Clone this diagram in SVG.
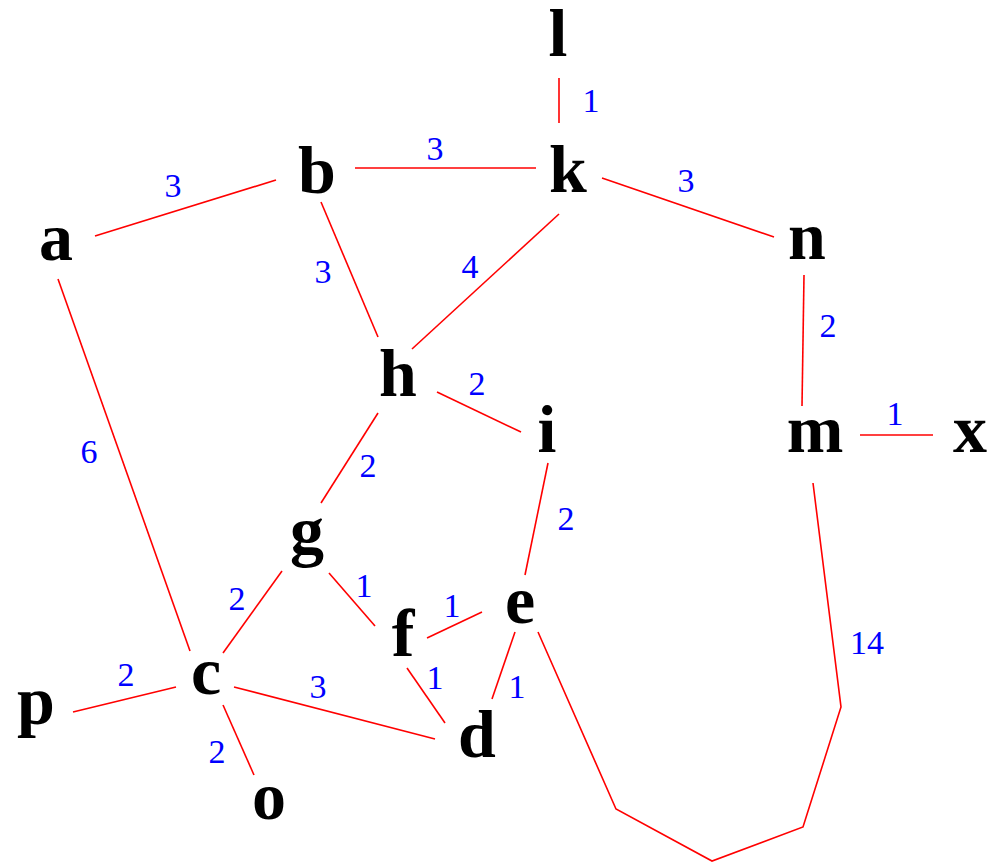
<svg xmlns="http://www.w3.org/2000/svg" width="988" height="862" viewBox="0 0 988 862">
<style>
.n{font-family:"Liberation Serif","Times New Roman",serif;font-weight:bold;font-size:68px;fill:#000;text-anchor:middle}
.w{font-family:"Liberation Serif","Times New Roman",serif;font-size:34px;fill:#0000ff;text-anchor:middle}
.e line,.e polyline{stroke:#ff0000;stroke-width:1.6;fill:none}
</style>
<rect width="988" height="862" fill="#fff"/>
<g class="e" id="edges">
<line x1="559" y1="78" x2="559" y2="123"/>
<line x1="355" y1="168" x2="536" y2="168"/>
<line x1="95" y1="236" x2="276" y2="180"/>
<line x1="321" y1="202" x2="378" y2="337"/>
<line x1="559" y1="214" x2="412" y2="349"/>
<line x1="602" y1="178" x2="774" y2="237"/>
<line x1="804" y1="275" x2="802" y2="406"/>
<line x1="860" y1="435" x2="933" y2="435"/>
<line x1="58" y1="279" x2="190" y2="651"/>
<line x1="437" y1="392" x2="521" y2="432"/>
<line x1="378" y1="413" x2="321" y2="503"/>
<line x1="548" y1="463" x2="525" y2="575"/>
<line x1="282" y1="571" x2="223" y2="653"/>
<line x1="329" y1="573" x2="375" y2="626"/>
<line x1="427" y1="638" x2="482" y2="612"/>
<line x1="407" y1="668" x2="445" y2="723"/>
<line x1="515" y1="632" x2="492" y2="699"/>
<line x1="73" y1="712" x2="176" y2="687"/>
<line x1="234" y1="687" x2="435" y2="739"/>
<line x1="223" y1="705" x2="254" y2="775"/>
<polyline points="538,632 616,809 712,861 803,827 841,707 813,483"/>
<text class="w" x="591" y="112">1</text>
<text class="w" x="435" y="160">3</text>
<text class="w" x="173" y="197">3</text>
<text class="w" x="323" y="283">3</text>
<text class="w" x="470" y="278">4</text>
<text class="w" x="686" y="192">3</text>
<text class="w" x="828" y="337">2</text>
<text class="w" x="895" y="425">1</text>
<text class="w" x="89" y="463">6</text>
<text class="w" x="477" y="395">2</text>
<text class="w" x="368" y="477">2</text>
<text class="w" x="566" y="530">2</text>
<text class="w" x="237" y="610">2</text>
<text class="w" x="364" y="597">1</text>
<text class="w" x="452" y="617">1</text>
<text class="w" x="435" y="689">1</text>
<text class="w" x="517" y="698">1</text>
<text class="w" x="126" y="686">2</text>
<text class="w" x="318" y="698">3</text>
<text class="w" x="217" y="763">2</text>
<text class="w" x="867" y="654">14</text>
</g>
<g id="node-l"><text class="n" x="558" y="56">l</text></g>
<g id="node-k"><text class="n" x="568" y="192">k</text></g>
<g id="node-b"><text class="n" x="317" y="193">b</text></g>
<g id="node-a"><text class="n" x="56" y="260">a</text></g>
<g id="node-n"><text class="n" x="807" y="259">n</text></g>
<g id="node-h"><text class="n" x="398" y="396">h</text></g>
<g id="node-i"><text class="n" x="547" y="452">i</text></g>
<g id="node-m"><text class="n" x="815" y="452">m</text></g>
<g id="node-x"><text class="n" x="970" y="452">x</text></g>
<g id="node-g"><text class="n" x="307" y="554">g</text></g>
<g id="node-c"><text class="n" x="206" y="694">c</text></g>
<g id="node-p"><text class="n" x="36" y="724">p</text></g>
<g id="node-o"><text class="n" x="269" y="819">o</text></g>
<g id="node-f"><text class="n" x="403" y="656">f</text></g>
<g id="node-d"><text class="n" x="477" y="757">d</text></g>
<g id="node-e"><text class="n" x="520" y="623">e</text></g>
</svg>
